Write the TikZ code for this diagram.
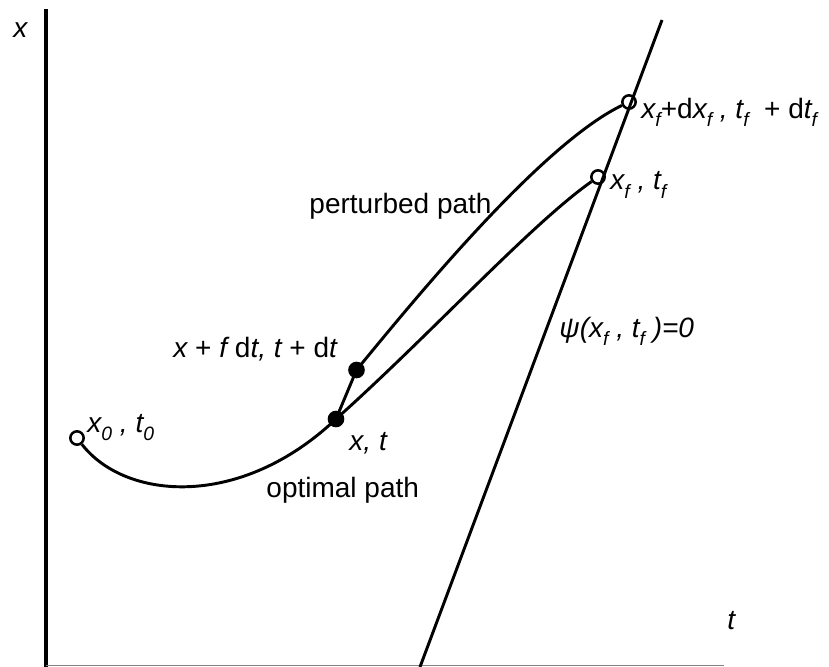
\documentclass[tikz,border=0pt]{standalone}
\usepackage{fontspec}
\setmainfont{Liberation Sans}
\newcommand\lo[1]{\raisebox{-0.55ex}{\fontsize{14.5}{16}\selectfont\itshape #1}}
\begin{document}
\begin{tikzpicture}[x=0.75pt,y=-0.75pt,line width=2.2pt,
  hollow/.style={draw,circle,line width=1.9pt,inner sep=0pt,minimum size=10pt},
  dot/.style={fill,circle,inner sep=0pt,minimum size=12.5pt},
  lbl/.style={anchor=base west,inner sep=0pt,font=\fontsize{21}{25}\selectfont}]
\useasboundingbox (0,0) rectangle (829,667);
\coordinate (top) at (46,9);
\coordinate (orig) at (46,667);
\coordinate (tend) at (724,665.5);
\coordinate (plo) at (420,667);
\coordinate (phi) at (662,20);
\node[hollow] (x0) at (77,438) {};
\node[dot] (xt) at (336,419) {};
\node[dot] (xp) at (356.5,370) {};
\node[hollow] (xf) at (598,177) {};
\node[hollow] (xd) at (629,102) {};
\draw[line width=2.8pt] (top) -- (orig);
\draw[gray,line width=0.9pt] (46,665.5) -- (tend);
\draw (plo) -- (phi);
\draw (x0) .. controls (125,500) and (240,510) .. (xt.center);
\draw (xt.center) .. controls (430,335) and (530,225) .. (xf);
\draw (xt.center) -- (xp.center);
\draw (xp.center) .. controls (410,305) and (540,145) .. (xd);
\node[lbl] (xlab) at (12,38) {\itshape x};
\node[lbl] (tlab) at (726,629) {\itshape t};
\node[lbl] (x0lab) at (86,432) {\itshape x\lo{0} , t\lo{0}};
\node[lbl] (xdlab) at (640,118) {\itshape x\lo{f}\upshape+d\itshape x\lo{f} , t\lo{f} \upshape\ + d\itshape t\lo{f}};
\node[lbl] (xflab) at (609,190) {\itshape x\lo{f} , t\lo{f}};
\node[lbl] (pertlab) at (308,213) {perturbed path};
\node[lbl] (xplab) at (172,357) {\itshape x \upshape + \itshape f \upshape d\itshape t, t \upshape + d\itshape t};
\node[lbl] (xtlab) at (348,450) {\itshape x, t};
\node[lbl] (optlab) at (265,497) {optimal path};
\node[lbl] (psilab) at (558,337) {\itshape ψ(x\lo{f} , t\lo{f} )=0};
\end{tikzpicture}
\end{document}
